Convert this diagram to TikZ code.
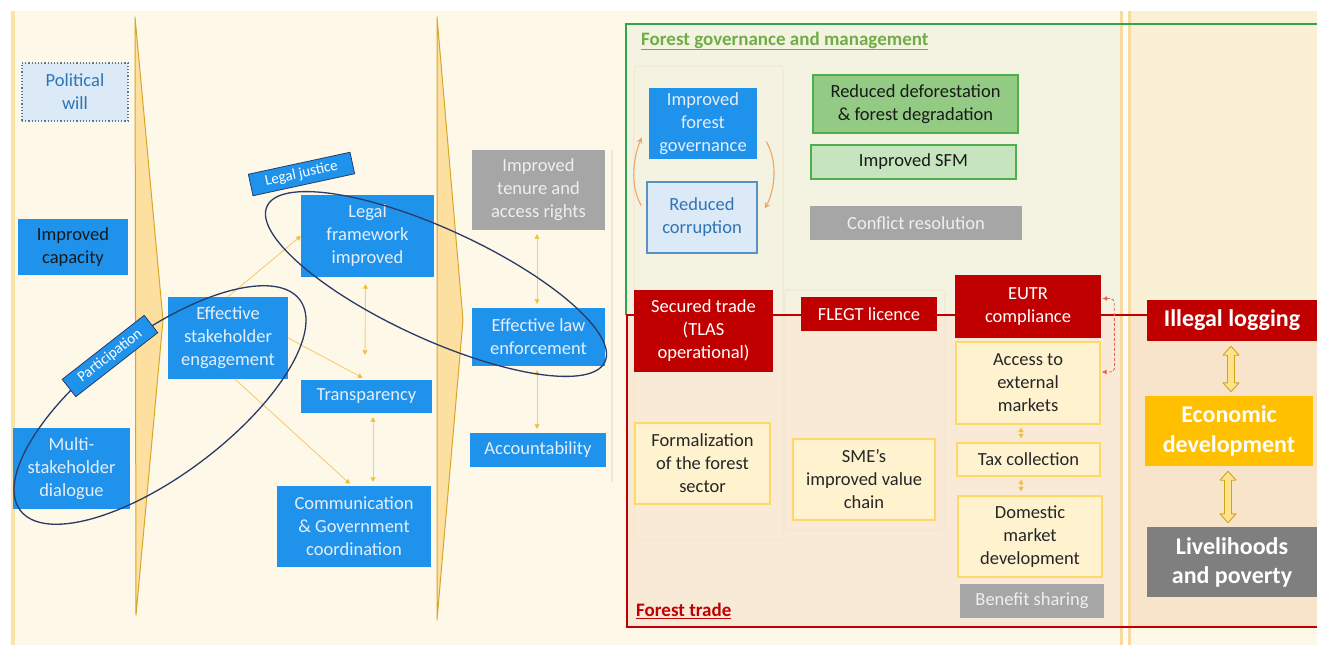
\documentclass[tikz,border=0pt]{standalone}
\usepackage{fontspec}
\setmainfont{Carlito}
\usetikzlibrary{arrows.meta,calc,shapes.geometric}
\definecolor{bgc}{HTML}{FEF8E9}
\definecolor{stripe}{HTML}{FBE3A8}
\definecolor{govfill}{HTML}{F4F3E1}
\definecolor{tradefill}{HTML}{F8EAD7}
\definecolor{rightfill}{HTML}{FAF0D5}
\definecolor{rightfilltwo}{HTML}{F7E4CB}
\definecolor{govgreen}{HTML}{2EA84A}
\definecolor{govtext}{HTML}{70AD47}
\definecolor{tradered}{HTML}{C00000}
\definecolor{bblue}{HTML}{1F93EC}
\definecolor{btxt}{HTML}{E4EEFA}
\definecolor{lblue}{HTML}{DCE9F6}
\definecolor{dblue}{HTML}{2E75B6}
\definecolor{grayf}{HTML}{A6A6A6}
\definecolor{grayt}{HTML}{EFEFEF}
\definecolor{dgray}{HTML}{7F7F7F}
\definecolor{goldc}{HTML}{FFC000}
\definecolor{yfill}{HTML}{FEF2CF}
\definecolor{ydraw}{HTML}{FFD966}
\definecolor{gfill}{HTML}{93CB85}
\definecolor{gfilltwo}{HTML}{C6E4BD}
\definecolor{gdraw}{HTML}{4CAF50}
\definecolor{wedgef}{HTML}{FDE0A0}
\definecolor{wedged}{HTML}{D9A62B}
\definecolor{connc}{HTML}{F7CB78}
\definecolor{arrc}{HTML}{F3BF35}
\definecolor{ellc}{HTML}{2B3A67}
\definecolor{oarc}{HTML}{EFA468}
\definecolor{faintc}{HTML}{F3E7CF}
\definecolor{sepc}{HTML}{F8D9A0}
\definecolor{darrf}{HTML}{FFE38A}
\definecolor{darrd}{HTML}{D1A21C}
\definecolor{dashc}{HTML}{E4664E}
\tikzset{ctip/.tip={Triangle[width=5pt,length=4.5pt,color=arrc]}}
\newcommand\bx[7]{%
 \pgfmathsetmacro\bxcx{(#3+#5)/2}%
 \pgfmathsetmacro\bxcy{(#4+#6)/2}%
 \pgfmathsetmacro\bxw{#5-#3}%
 \pgfmathsetmacro\bxh{#6-#4}%
 \node[#1, minimum width=\bxw pt, minimum height=\bxh pt] (#2) at (\bxcx,\bxcy) {#7};}
\newcommand\dbarrow[3]{%
 \coordinate (#1t) at ($(#2.south)+(-1,5)$);
 \coordinate (#1b) at ($(#1t |- #3.north)+(0,-4)$);
 \draw[darr] (#1t) -- ++(8,9) -- ++(-4.5,0) -- ($(#1b)+(3.5,-9)$) -- ++(4.5,0) -- (#1b) -- ++(-8,-9) -- ++(4.5,0) -- ($(#1t)+(-3.5,9)$) -- ++(-4.5,0) -- cycle;}
\begin{document}
\begin{tikzpicture}[x=1pt,y=-1pt,
  box/.style={rectangle,inner sep=1pt,align=center,font=\fontsize{18.5}{23}\selectfont},
  bluebox/.style={box,fill=bblue,text=btxt},
  dotbox/.style={box,fill=lblue,text=dblue,draw=dblue!60!gray,dotted,line width=1.2pt},
  lbox/.style={box,fill=lblue,text=dblue,draw=dblue!80,line width=1.5pt},
  graybox/.style={box,fill=grayf,text=grayt},
  redbox/.style={box,fill=tradered,text=white},
  ybox/.style={box,fill=yfill,draw=ydraw,line width=1.2pt,text=black!85},
  gbox/.style={box,fill=gfill,draw=gdraw,line width=1.2pt,text=black!90},
  gboxtwo/.style={box,fill=gfilltwo,draw=gdraw,line width=1.2pt,text=black!90},
  goldbox/.style={box,fill=goldc,text=white,font=\bfseries\fontsize{24}{30}\selectfont},
  dgraybox/.style={box,fill=dgray,text=white,font=\bfseries\fontsize{24}{29}\selectfont},
  wedge/.style={fill=wedgef,draw=wedged,line width=1pt,line join=round},
  conn/.style={draw=connc,line width=0.9pt},
  oarrow/.style={draw=oarc,line width=1.1pt,-{Stealth[length=6pt,width=6pt]}},
  ellline/.style={ellipse,draw=ellc,line width=1.3pt,inner sep=0pt},
  tag/.style={rectangle,fill=bblue,draw=ellc,line width=0.8pt,text=white,inner sep=0pt,font=\fontsize{15}{17}\selectfont},
  darr/.style={fill=darrf,draw=darrd,line width=0.9pt,line join=round},
  faint/.style={draw=faintc,line width=1.2pt}
]
\clip (0,0) rectangle (1317,645);
\fill[white] (0,0) rectangle (1317,645);
\fill[bgc] (11,11) rectangle (1317,645);
\fill[stripe] (11,11) rectangle (15,645);
\fill[govfill] (626,24) rectangle (1120,315);
\fill[tradefill] (626,315) rectangle (1120,627);
\fill[rightfill] (1120,11) rectangle (1317,315);
\fill[rightfilltwo] (1120,315) rectangle (1317,627);
% separator
\fill[sepc] (1119.5,11) rectangle (1122.5,645);
\fill[sepc] (1128,11) rectangle (1131,645);
\fill[white!70!bgc] (1122.5,11) rectangle (1128,645);
% faint groups
\draw[faint,rounded corners=3pt] (634,66) rectangle (783,540);
\draw[faint,rounded corners=3pt] (785,290) rectangle (945,530);
\draw[faint] (612,150) -- (612,482);
% frame borders
\draw[govgreen,line width=2.5pt] (1330,24) -- (626,24) -- (626,315);
\draw[tradered,line width=2.5pt] (1330,315) -- (627,315) -- (627,627) -- (1330,627);
% wedges
\draw[wedge] (135,17) -- (163,320) -- (136,615) -- cycle;
\draw[wedge] (437,17) -- (463,320) -- (437,620) -- cycle;
% boxes
\bx{dotbox}{pw}{22}{63}{128}{121}{Political\\will}
\bx{bluebox,text=black!90}{ic}{18}{219}{128}{275}{Improved\\capacity}
\bx{bluebox}{msd}{13}{428}{130}{509}{Multi-\\stakeholder\\dialogue}
\bx{bluebox}{ese}{168}{297}{288}{379}{Effective\\stakeholder\\engagement}
\bx{bluebox}{lfi}{301}{195}{434}{277}{Legal\\framework\\improved}
\bx{bluebox}{tr}{301}{380}{432}{413}{Transparency}
\bx{bluebox}{cgc}{277}{486}{431}{567}{Communication\\\& Government\\coordination}
\bx{graybox}{ita}{472}{150}{605}{230}{Improved\\tenure and\\access rights}
\bx{bluebox}{ele}{472}{308}{605}{366}{Effective law\\enforcement}
\bx{bluebox}{acc}{470}{433}{606}{467}{Accountability}
\bx{bluebox}{ifg}{649}{88}{757}{159}{Improved\\forest\\governance}
\bx{lbox}{rc}{647}{182}{757}{253}{Reduced\\corruption}
\bx{gbox}{rdf}{813}{75}{1018}{133}{Reduced deforestation\\\& forest degradation}
\bx{gboxtwo}{sfm}{811}{145}{1016}{179}{Improved SFM}
\bx{graybox}{cr}{810}{206}{1022}{240}{Conflict resolution}
\bx{redbox}{st}{634}{290}{773}{372}{Secured trade\\(TLAS\\operational)}
\bx{redbox}{fl}{801}{297}{937}{331}{FLEGT licence}
\bx{redbox}{eu}{955}{275}{1101}{338}{EUTR\\compliance}
\bx{redbox,font=\bfseries\fontsize{24}{29}\selectfont}{il}{1147}{300}{1317}{341}{Illegal logging}
\bx{ybox}{aem}{956}{342}{1100}{424}{Access to\\external\\markets}
\bx{ybox}{tc}{957}{443}{1100}{476}{Tax collection}
\bx{ybox}{dmd}{958}{496}{1102}{577}{Domestic\\market\\development}
\bx{graybox}{bs}{960}{584}{1104}{618}{Benefit sharing}
\bx{ybox}{fs}{635}{423}{770}{504}{Formalization\\of the forest\\sector}
\bx{ybox}{sme}{793}{439}{935}{520}{SME’s\\improved value\\chain}
\bx{goldbox}{ed}{1145}{396}{1313}{466}{Economic\\development}
\bx{dgraybox}{lp}{1147}{527}{1317}{597}{Livelihoods\\and poverty}
% connectors
\draw[conn,-{ctip}] (ese.north) -- (lfi.west);
\draw[conn,-{ctip}] (ese.east) -- ($(tr.north)+(-4,-2)$);
\draw[conn,-{ctip}] ($(ese.south)+(7,0)$) -- ($(cgc.north)+(-4,-2)$);
\draw[conn,{ctip}-{ctip}] ($(lfi.south)+(-2,7)$) -- ($(tr.north)+(-1.5,-25)$);
\draw[conn,{ctip}-{ctip}] ($(tr.south)+(6.5,4)$) -- ($(cgc.north)+(19,-4)$);
\draw[conn,{ctip}-{ctip}] ($(ita.south)+(-1.5,4)$) -- ($(ele.north)+(-1.5,-4)$);
\draw[conn,{ctip}-{ctip}] ($(ele.south)+(-1.5,4)$) -- ($(acc.north)+(-1,-4)$);
\draw[conn,{ctip}-{ctip}] ($(aem.south)+(-7,3)$) -- ($(tc.north)+(-7.5,-4)$);
\draw[conn,{ctip}-{ctip}] ($(tc.south)+(-7.5,3)$) -- ($(dmd.north)+(-9,-4)$);
\draw[oarrow] ($(rc.west)+(-5,-12)$) .. controls +(-12,-20) and +(-8,18) .. ($(ifg.west)+(-7,14)$);
\draw[oarrow] ($(ifg.east)+(9,18)$) .. controls +(12,20) and +(10,-18) .. ($(rc.east)+(7,-9)$);
\draw[dashc,densely dashed,line width=0.9pt,rounded corners=4pt,{Latex[length=5pt,width=5pt]}-{Latex[length=5pt,width=5pt]}]
  ($(eu.east)+(1,-8)$) -- ++(12,0) -- ($(aem.east)+(14,-11)$) -- ($(aem.east)+(1,-11)$);
\dbarrow{daone}{il}{ed}
\dbarrow{datwo}{ed}{lp}
% ellipses
\node[ellline,minimum width=350pt,minimum height=140pt,rotate=37] (pe) at (160,405) {};
\node[ellline,minimum width=372pt,minimum height=110pt,rotate=-24.7] (le) at (436,284) {};
% tags
\node[tag,rotate=12.2,minimum width=104pt,minimum height=22pt] (lj) at (301.5,174) {Legal justice};
\node[tag,rotate=38,minimum width=104pt,minimum height=22pt] (pa) at (110,356) {Participation};
% labels
\node[anchor=west,text=govtext,inner sep=0pt,font=\bfseries\fontsize{19}{22}\selectfont] (fgl) at (641,41) {\underline{Forest governance and management}};
\node[anchor=west,text=tradered,inner sep=0pt,font=\bfseries\fontsize{19}{22}\selectfont] (ftl) at (636,611) {\underline{Forest trade}};
\end{tikzpicture}
\end{document}
